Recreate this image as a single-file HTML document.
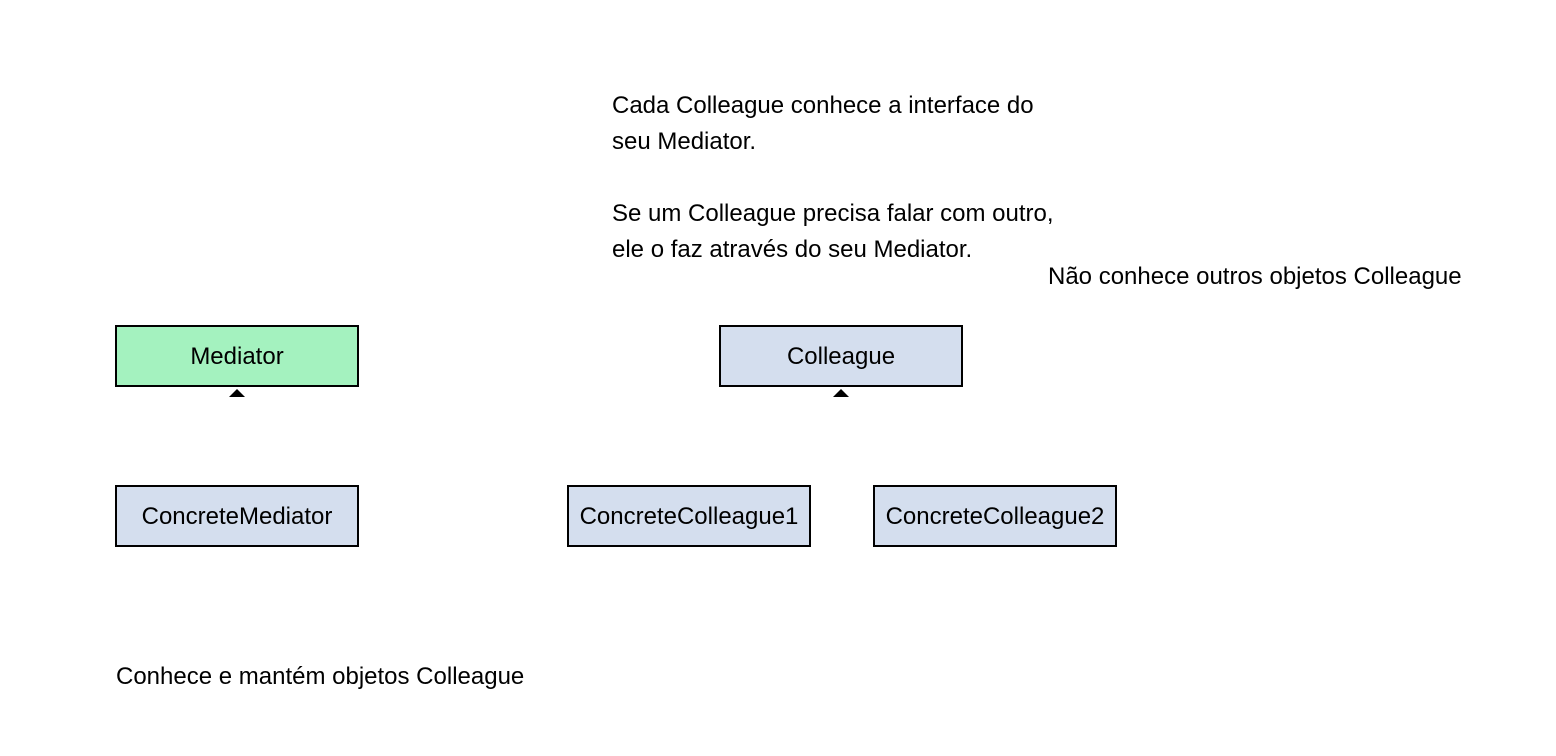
<!DOCTYPE html>
<html><head><meta charset="utf-8"><style>
body{margin:0;width:1556px;height:756px;background:#fff;position:relative;font-family:"Liberation Sans",sans-serif;color:#000;overflow:hidden}
.b{position:absolute;box-sizing:border-box;border:2px solid #000;width:244px;height:62px;display:flex;align-items:center;justify-content:center;font-size:24px;background:#d4deee;padding-top:2px}
.t{position:absolute;font-size:24px;white-space:nowrap}
</style></head><body>
<div class="t" style="left:612px;top:88px;line-height:36px">Cada Colleague conhece a interface do<br>seu Mediator.</div>
<div class="t" style="left:612px;top:196px;line-height:36px">Se um Colleague precisa falar com outro,<br>ele o faz através do seu Mediator.</div>
<div class="t" style="left:1048px;top:263px">Não conhece outros objetos Colleague</div>
<div class="b" style="left:115px;top:325px;background:#a4f2bf">Mediator</div>
<div class="b" style="left:719px;top:325px">Colleague</div>
<div class="b" style="left:115px;top:485px">ConcreteMediator</div>
<div class="b" style="left:567px;top:485px">ConcreteColleague1</div>
<div class="b" style="left:873px;top:485px">ConcreteColleague2</div>
<div class="t" style="left:116px;top:663px">Conhece e mantém objetos Colleague</div>
<svg style="position:absolute;left:0;top:0" width="1556" height="756">
<polygon points="229,397 237,389 245,397" fill="#000"/>
<polygon points="833,397 841,389 849,397" fill="#000"/>
</svg>
</body></html>
